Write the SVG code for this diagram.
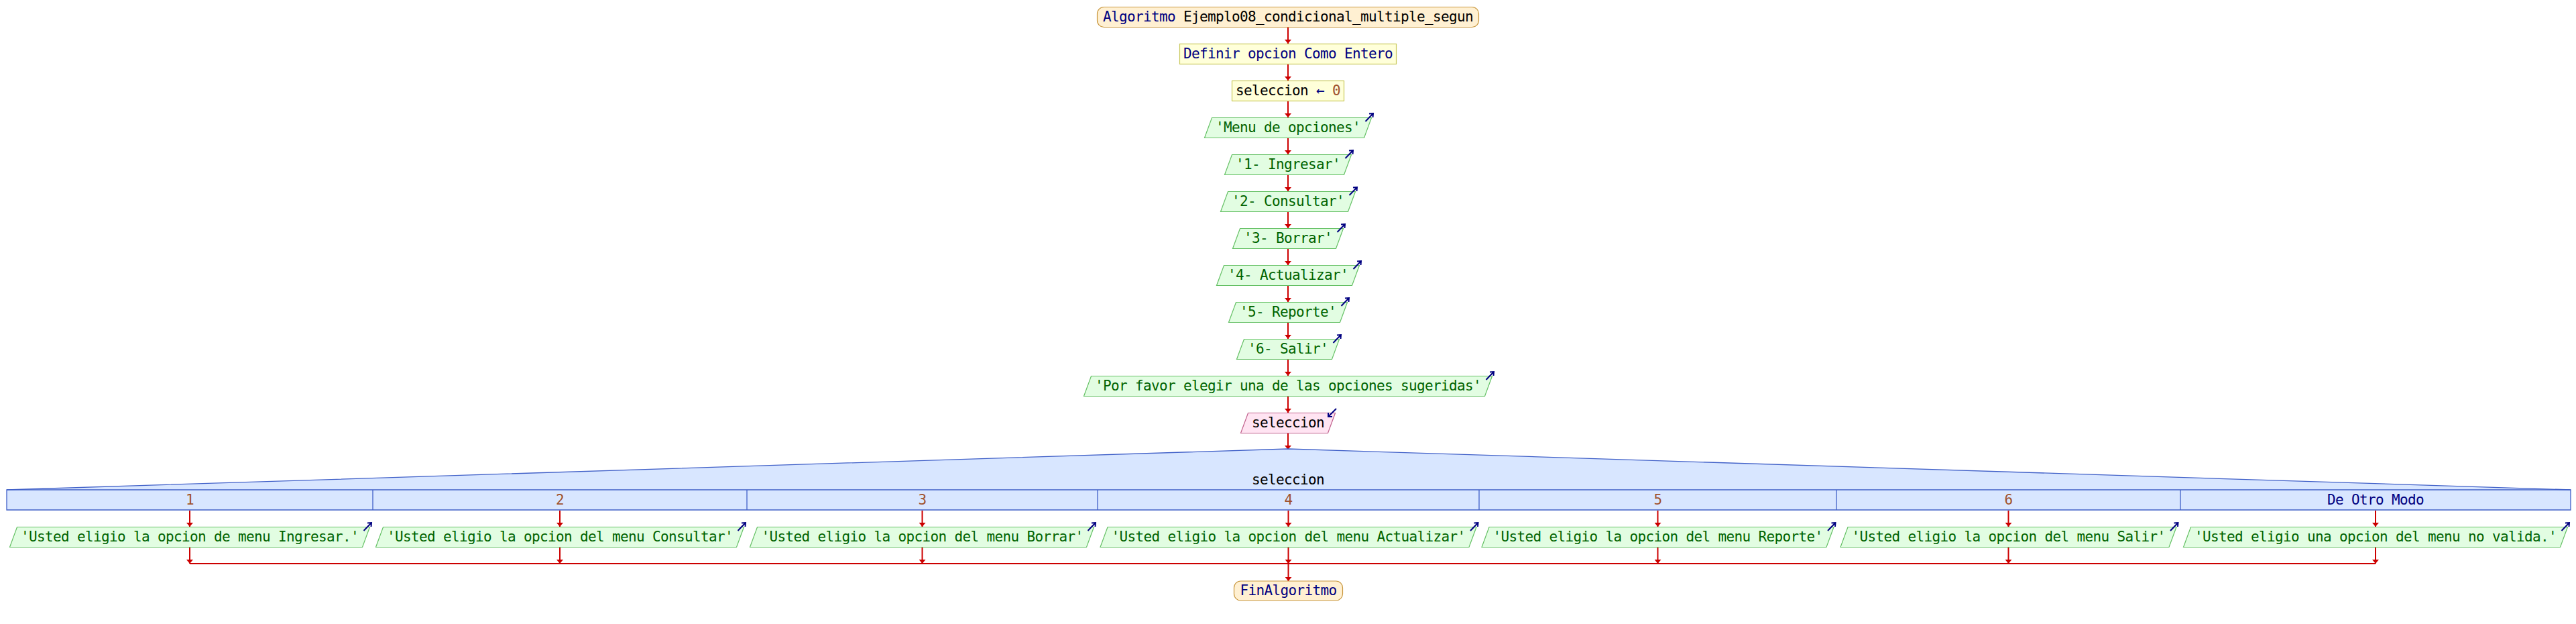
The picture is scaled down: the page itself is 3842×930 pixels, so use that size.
<svg xmlns="http://www.w3.org/2000/svg" width="3842" height="930" viewBox="0 0 3842 930">
<style>
.t{font-family:"DejaVu Sans Mono","Liberation Mono",monospace;font-size:21px;letter-spacing:-0.64px;text-anchor:middle}
.kw{fill:#000080}
.blk{fill:#000000}
.num{fill:#a0522d}
.out{fill:#006400}
.term{fill:#fff0d2;stroke:#c8963c;stroke-width:1.2}
.proc{fill:#ffffd9;stroke:#c8c85a;stroke-width:1.2}
.outp{fill:#e2fde2;stroke:#64c064;stroke-width:1.2}
.inp{fill:#ffe4f2;stroke:#c0608c;stroke-width:1.2}
.seg{fill:#d8e6ff;stroke:#4060c8;stroke-width:1.3}
.segl{stroke:#4060c8;stroke-width:1.3;fill:none}
.icon{stroke:#000080;stroke-width:2;fill:none}
.con{stroke:#cc0000;stroke-width:2;fill:none}
</style>
<defs>
<marker id="ah" markerUnits="userSpaceOnUse" markerWidth="6" markerHeight="10" viewBox="0 0 6 10" refX="6" refY="5" orient="auto">
<path d="M0,0 L6,5 L0,10 z" fill="#cc0000"/>
</marker>
</defs>
<rect width="3842" height="930" fill="#ffffff"/>

<g id="connectors">
<path class="con" marker-end="url(#ah)" d="M1921,41 V65"/>
<path class="con" marker-end="url(#ah)" d="M1921,96 V120"/>
<path class="con" marker-end="url(#ah)" d="M1921,151 V175"/>
<path class="con" marker-end="url(#ah)" d="M1921,205 V230"/>
<path class="con" marker-end="url(#ah)" d="M1921,260 V285"/>
<path class="con" marker-end="url(#ah)" d="M1921,315 V340"/>
<path class="con" marker-end="url(#ah)" d="M1921,370 V395"/>
<path class="con" marker-end="url(#ah)" d="M1921,425 V450"/>
<path class="con" marker-end="url(#ah)" d="M1921,480 V505"/>
<path class="con" marker-end="url(#ah)" d="M1921,535 V560"/>
<path class="con" marker-end="url(#ah)" d="M1921,590 V615"/>
<path class="con" marker-end="url(#ah)" d="M1921,645 V670"/>
<path class="con" marker-end="url(#ah)" d="M283,761 V785"/>
<path class="con" marker-end="url(#ah)" d="M835,761 V785"/>
<path class="con" marker-end="url(#ah)" d="M1375.5,761 V785"/>
<path class="con" marker-end="url(#ah)" d="M1921.5,761 V785"/>
<path class="con" marker-end="url(#ah)" d="M2472.5,761 V785"/>
<path class="con" marker-end="url(#ah)" d="M2995.5,761 V785"/>
<path class="con" marker-end="url(#ah)" d="M3543,761 V785"/>
<path class="con" marker-end="url(#ah)" d="M283,815 V840"/>
<path class="con" marker-end="url(#ah)" d="M835,815 V840"/>
<path class="con" marker-end="url(#ah)" d="M1375.5,815 V840"/>
<path class="con" marker-end="url(#ah)" d="M1921.5,815 V840"/>
<path class="con" marker-end="url(#ah)" d="M2472.5,815 V840"/>
<path class="con" marker-end="url(#ah)" d="M2995.5,815 V840"/>
<path class="con" marker-end="url(#ah)" d="M3543,815 V840"/>
<path class="con" d="M283,840 H3543"/>
<path class="con" marker-end="url(#ah)" d="M1921.5,840 V866"/>
</g>

<g id="n_inicio">
<rect class="term" x="1636.5" y="10.5" width="569" height="30" rx="10" ry="10"/>
<text class="t" x="1921" y="32"><tspan class="kw">Algoritmo</tspan><tspan class="blk"> Ejemplo08_condicional_multiple_segun</tspan></text>
</g>

<g id="n_definir">
<rect class="proc" x="1759.5" y="65.5" width="323" height="30"/>
<text class="t kw" x="1921" y="87">Definir opcion Como Entero</text>
</g>

<g id="n_asignar">
<rect class="proc" x="1837.5" y="120.5" width="167" height="30"/>
<text class="t" x="1921" y="142"><tspan class="blk">seleccion </tspan><tspan class="kw">←</tspan><tspan class="num"> 0</tspan></text>
</g>

<g id="n_menu">
<path class="outp" d="M1807.5,175.5 H2045.5 L2034.5,205.5 H1796.5 Z"/>
<text class="t out" x="1921" y="197">'Menu de opciones'</text>
<path class="icon" d="M2036.5,181 L2048,169 M2042,169.5 L2048,169 L2047.5,175"/>
</g>

<g id="n_op1">
<path class="outp" d="M1837.5,230.5 H2015.5 L2004.5,260.5 H1826.5 Z"/>
<text class="t out" x="1921" y="252">'1- Ingresar'</text>
<path class="icon" d="M2006.5,236 L2018,224 M2012,224.5 L2018,224 L2017.5,230"/>
</g>

<g id="n_op2">
<path class="outp" d="M1831.5,285.5 H2021.5 L2010.5,315.5 H1820.5 Z"/>
<text class="t out" x="1921" y="307">'2- Consultar'</text>
<path class="icon" d="M2012.5,291 L2024,279 M2018,279.5 L2024,279 L2023.5,285"/>
</g>

<g id="n_op3">
<path class="outp" d="M1849.5,340.5 H2003.5 L1992.5,370.5 H1838.5 Z"/>
<text class="t out" x="1921" y="362">'3- Borrar'</text>
<path class="icon" d="M1994.5,346 L2006,334 M2000,334.5 L2006,334 L2005.5,340"/>
</g>

<g id="n_op4">
<path class="outp" d="M1825.5,395.5 H2027.5 L2016.5,425.5 H1814.5 Z"/>
<text class="t out" x="1921" y="417">'4- Actualizar'</text>
<path class="icon" d="M2018.5,401 L2030,389 M2024,389.5 L2030,389 L2029.5,395"/>
</g>

<g id="n_op5">
<path class="outp" d="M1843.5,450.5 H2009.5 L1998.5,480.5 H1832.5 Z"/>
<text class="t out" x="1921" y="472">'5- Reporte'</text>
<path class="icon" d="M2000.5,456 L2012,444 M2006,444.5 L2012,444 L2011.5,450"/>
</g>

<g id="n_op6">
<path class="outp" d="M1855.5,505.5 H1997.5 L1986.5,535.5 H1844.5 Z"/>
<text class="t out" x="1921" y="527">'6- Salir'</text>
<path class="icon" d="M1988.5,511 L2000,499 M1994,499.5 L2000,499 L1999.5,505"/>
</g>

<g id="n_porfavor">
<path class="outp" d="M1627.5,560.5 H2225.5 L2214.5,590.5 H1616.5 Z"/>
<text class="t out" x="1921" y="582">'Por favor elegir una de las opciones sugeridas'</text>
<path class="icon" d="M2216.5,566 L2228,554 M2222,554.5 L2228,554 L2227.5,560"/>
</g>

<g id="n_leer">
<path class="inp" d="M1861.5,615.5 H1991.5 L1980.5,645.5 H1850.5 Z"/>
<text class="t blk" x="1921" y="637">seleccion</text>
<path class="icon" d="M1993,609 L1981,621 M1987,621 L1981,621 L1981,615"/>
</g>

<g id="n_segun">
<path class="seg" d="M10,730 L1921,669 L3834,730 V760 H10 Z"/>
<path class="segl" d="M10,730 H3834 M556,730 V760 M1114,730 V760 M1637,730 V760 M2206,730 V760 M2739,730 V760 M3252,730 V760"/>
<text class="t blk" x="1921" y="722">seleccion</text>
<text class="t num" x="283" y="752">1</text>
<text class="t num" x="835" y="752">2</text>
<text class="t num" x="1375.5" y="752">3</text>
<text class="t num" x="1921.5" y="752">4</text>
<text class="t num" x="2472.5" y="752">5</text>
<text class="t num" x="2995.5" y="752">6</text>
<text class="t kw" x="3543" y="752">De Otro Modo</text>
</g>

<g id="n_caso1">
<path class="outp" d="M25.5,785.5 H551.5 L540.5,815.5 H14.5 Z"/>
<text class="t out" x="283" y="807">'Usted eligio la opcion de menu Ingresar.'</text>
<path class="icon" d="M542.5,791 L554,779 M548,779.5 L554,779 L553.5,785"/>
</g>

<g id="n_caso2">
<path class="outp" d="M571.5,785.5 H1109.5 L1098.5,815.5 H560.5 Z"/>
<text class="t out" x="835" y="807">'Usted eligio la opcion del menu Consultar'</text>
<path class="icon" d="M1100.5,791 L1112,779 M1106,779.5 L1112,779 L1111.5,785"/>
</g>

<g id="n_caso3">
<path class="outp" d="M1129.5,785.5 H1631.5 L1620.5,815.5 H1118.5 Z"/>
<text class="t out" x="1375.5" y="807">'Usted eligio la opcion del menu Borrar'</text>
<path class="icon" d="M1622.5,791 L1634,779 M1628,779.5 L1634,779 L1633.5,785"/>
</g>

<g id="n_caso4">
<path class="outp" d="M1652,785.5 H2202 L2191,815.5 H1641 Z"/>
<text class="t out" x="1921.5" y="807">'Usted eligio la opcion del menu Actualizar'</text>
<path class="icon" d="M2193,791 L2204.5,779 M2198.5,779.5 L2204.5,779 L2204,785"/>
</g>

<g id="n_caso5">
<path class="outp" d="M2221,785.5 H2735 L2724,815.5 H2210 Z"/>
<text class="t out" x="2472.5" y="807">'Usted eligio la opcion del menu Reporte'</text>
<path class="icon" d="M2726,791 L2737.5,779 M2731.5,779.5 L2737.5,779 L2737,785"/>
</g>

<g id="n_caso6">
<path class="outp" d="M2756,785.5 H3246 L3235,815.5 H2745 Z"/>
<text class="t out" x="2995.5" y="807">'Usted eligio la opcion del menu Salir'</text>
<path class="icon" d="M3237,791 L3248.5,779 M3242.5,779.5 L3248.5,779 L3248,785"/>
</g>

<g id="n_otro">
<path class="outp" d="M3267.5,785.5 H3829.5 L3818.5,815.5 H3256.5 Z"/>
<text class="t out" x="3543" y="807">'Usted eligio una opcion del menu no valida.'</text>
<path class="icon" d="M3820.5,791 L3832,779 M3826,779.5 L3832,779 L3831.5,785"/>
</g>

<g id="n_fin">
<rect class="term" x="1840.5" y="866" width="162" height="29" rx="10" ry="10"/>
<text class="t kw" x="1921.5" y="887">FinAlgoritmo</text>
</g>
</svg>
